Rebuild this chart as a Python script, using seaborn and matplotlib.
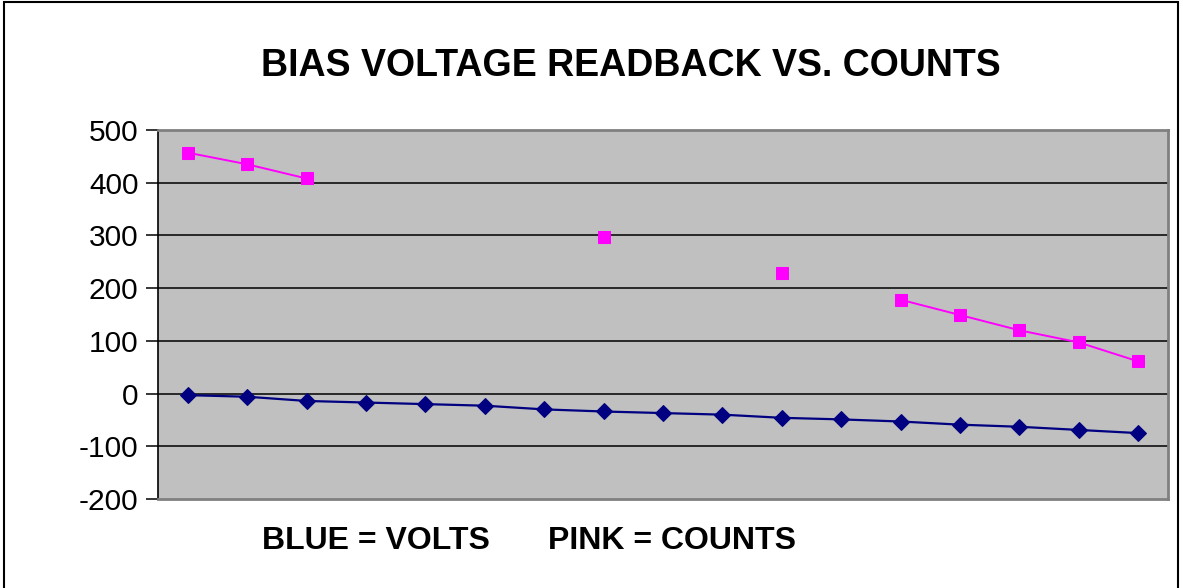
import numpy as np
import pandas as pd
import matplotlib
matplotlib.use("Agg")
import matplotlib.pyplot as plt
import seaborn as sns
from matplotlib.patches import Rectangle

# readings, one per step
steps = list(range(17))
volts = [-3, -6, -14, -17, -20, -23, -30, -34, -37, -40, -46, -49, -53, -59, -63, -69, -75]
counts = [457, 435, 408, None, None, None, None, 297, None, None, 228, None, 178, 149, 120, 97, 61]
y_ticks = [-200, -100, 0, 100, 200, 300, 400, 500]

sns.set_theme(style="white")
plt.rcParams['font.family'] = ['Liberation Sans', 'DejaVu Sans']
plt.rcParams['text.color'] = 'black'
plt.rcParams['ytick.color'] = 'black'

df = pd.DataFrame({"step": steps, "volts": volts, "counts": counts})
df["counts"] = df["counts"].astype(float)
# break the pink line where readings are missing
df["run"] = df["counts"].isna().cumsum()
pink = df.dropna(subset=["counts"])

fig = plt.figure(figsize=(11.83, 5.88), dpi=100)
ax = fig.add_axes([158 / 1183, 1 - 499 / 588, 1010 / 1183, 369 / 588])
ax.set_facecolor("#C0C0C0")

for y in y_ticks[1:-1]:
    ax.axhline(y, color="black", lw=1.1, zorder=1)

sns.lineplot(data=df, x="step", y="volts", ax=ax, color="#000080", lw=1.6,
             marker="D", markersize=8, markeredgecolor="#000080", zorder=3)
sns.lineplot(data=pink, x="step", y="counts", units="run", estimator=None, ax=ax,
             color="#FF00FF", lw=1.4, marker="s", markersize=9,
             markeredgecolor="#FF00FF", zorder=3)

ax.set_xlim(-0.5, 16.5)
ax.set_ylim(-200, 500)
ax.set_yticks(y_ticks)
ax.set_yticklabels([str(t) for t in y_ticks], fontsize=21.5, color="black")
ax.set_xticks([])
ax.set_xlabel("")
ax.set_ylabel("")
ax.tick_params(axis="y", direction="out", length=9, width=1.1, color="black", pad=5, left=True)

for side in ["top", "right", "bottom"]:
    ax.spines[side].set_color("#808080")
    ax.spines[side].set_linewidth(2)
ax.spines["left"].set_color("black")
ax.spines["left"].set_linewidth(1.2)

fig.text(631 / 1183, 1 - 66 / 588, "BIAS VOLTAGE READBACK VS. COUNTS",
         ha="center", va="center", fontsize=27, fontweight="bold", color="black")
fig.text(262 / 1183, 1 - 541 / 588, "BLUE = VOLTS", ha="left", va="center",
         fontsize=23, fontweight="bold", color="black")
fig.text(548 / 1183, 1 - 541 / 588, "PINK = COUNTS", ha="left", va="center",
         fontsize=23, fontweight="bold", color="black")

fig.patches.append(Rectangle((4 / 1183, -0.02), 1174 / 1183, 1.02 - 2 / 588,
                             transform=fig.transFigure, fill=False,
                             edgecolor="black", lw=1.5))

fig.savefig("out.png", dpi=100)
